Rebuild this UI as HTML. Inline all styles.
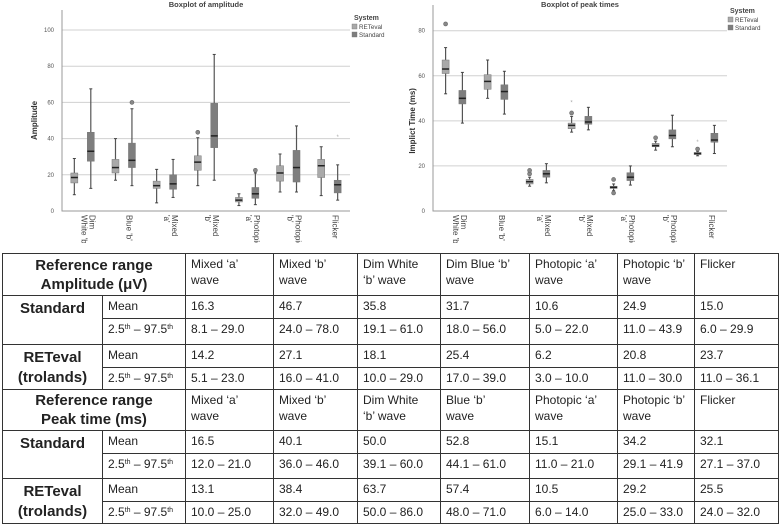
<!DOCTYPE html>
<html><head><meta charset="utf-8">
<style>
body{margin:0;background:#fff;width:780px;height:524px;overflow:hidden;position:relative;font-family:"Liberation Sans",sans-serif}
svg{position:absolute;left:0;top:0}
table{position:absolute;left:2px;top:253px;border-collapse:collapse;table-layout:fixed;width:776px}
td{border:1px solid #333;font-size:12px;color:#222;vertical-align:top;padding:2px 5px 0 5px;line-height:16px;overflow:hidden;white-space:nowrap;box-sizing:border-box}
td.h{font-weight:bold;font-size:15px;text-align:center;vertical-align:middle;padding:0;line-height:19px}
td.g{font-weight:bold;font-size:15px;text-align:center;vertical-align:top;padding-top:3px;line-height:20px}
sup{font-size:7px;line-height:0;vertical-align:4px}
</style></head><body>
<svg id="chart" width="780" height="243" viewBox="0 0 780 243"></svg>
<table>
<colgroup><col style="width:100px"><col style="width:83px"><col style="width:88px"><col style="width:84px"><col style="width:83px"><col style="width:89px"><col style="width:88px"><col style="width:77px"><col style="width:84px"></colgroup>
<tr style="height:42px"><td class="h" colspan="2">Reference range<br>Amplitude (μV)</td><td>Mixed ‘a’<br>wave</td><td>Mixed ‘b’<br>wave</td><td>Dim White<br>‘b’ wave</td><td>Dim Blue ‘b’<br>wave</td><td>Photopic ‘a’<br>wave</td><td>Photopic ‘b’<br>wave</td><td>Flicker</td></tr>
<tr style="height:23px"><td class="g" rowspan="2">Standard</td><td>Mean</td><td>16.3</td><td>46.7</td><td>35.8</td><td>31.7</td><td>10.6</td><td>24.9</td><td>15.0</td></tr>
<tr style="height:26px"><td>2.5<sup>th</sup> – 97.5<sup>th</sup></td><td>8.1 – 29.0</td><td>24.0 – 78.0</td><td>19.1 – 61.0</td><td>18.0 – 56.0</td><td>5.0 – 22.0</td><td>11.0 – 43.9</td><td>6.0 – 29.9</td></tr>
<tr style="height:23px"><td class="g" rowspan="2">RETeval<br>(trolands)</td><td>Mean</td><td>14.2</td><td>27.1</td><td>18.1</td><td>25.4</td><td>6.2</td><td>20.8</td><td>23.7</td></tr>
<tr style="height:22px"><td>2.5<sup>th</sup> – 97.5<sup>th</sup></td><td>5.1 – 23.0</td><td>16.0 – 41.0</td><td>10.0 – 29.0</td><td>17.0 – 39.0</td><td>3.0 – 10.0</td><td>11.0 – 30.0</td><td>11.0 – 36.1</td></tr>
<tr style="height:41px"><td class="h" colspan="2">Reference range<br>Peak time (ms)</td><td>Mixed ‘a’<br>wave</td><td>Mixed ‘b’<br>wave</td><td>Dim White<br>‘b’ wave</td><td>Blue ‘b’<br>wave</td><td>Photopic ‘a’<br>wave</td><td>Photopic ‘b’<br>wave</td><td>Flicker</td></tr>
<tr style="height:23px"><td class="g" rowspan="2">Standard</td><td>Mean</td><td>16.5</td><td>40.1</td><td>50.0</td><td>52.8</td><td>15.1</td><td>34.2</td><td>32.1</td></tr>
<tr style="height:25px"><td>2.5<sup>th</sup> – 97.5<sup>th</sup></td><td>12.0 – 21.0</td><td>36.0 – 46.0</td><td>39.1 – 60.0</td><td>44.1 – 61.0</td><td>11.0 – 21.0</td><td>29.1 – 41.9</td><td>27.1 – 37.0</td></tr>
<tr style="height:23px"><td class="g" rowspan="2">RETeval<br>(trolands)</td><td>Mean</td><td>13.1</td><td>38.4</td><td>63.7</td><td>57.4</td><td>10.5</td><td>29.2</td><td>25.5</td></tr>
<tr style="height:22px"><td>2.5<sup>th</sup> – 97.5<sup>th</sup></td><td>10.0 – 25.0</td><td>32.0 – 49.0</td><td>50.0 – 86.0</td><td>48.0 – 71.0</td><td>6.0 – 14.0</td><td>25.0 – 33.0</td><td>24.0 – 32.0</td></tr>
</table>
<script>
// Data: [whiskerLow, q1, median, q3, whiskerHigh]
const categories = ["Dim|White 'b'","Blue 'b'","Mixed|'a'","Mixed|'b'","Photopic|'a'","Photopic|'b'","Flicker"];
const ampRet = [[9,15.5,18.5,21,29],[17,21,24,28.5,40],[4.5,12.5,14,16.5,23],[14,22.5,27,30.5,40.5],[3,5,6,7.5,9.5],[10.5,16.5,21,25,31.5],[8.5,18.5,25,28.5,35.5]];
const ampStd = [[12.5,27.5,33,43.5,67.5],[14,24,28,37.5,56.5],[7.5,12,15,20,28.5],[17,35,41.5,59.5,86.5],[3.5,7,9.5,13,21],[10.5,16,24,33.5,47],[6,10,14.5,17,25.5]];
const ampRetOut = [[],[],[],[43.5],[],[],[]];
const ampStdOut = [[],[60],[],[],[22.5],[],[]];
const ampStdStar = [[],[],[],[],[],[],[41.5]];
const ampRetStar = [[],[],[],[],[],[],[]];
const ampTicks = [0,20,40,60,80,100];
const ptRet = [[52,61,63,67,72.5],[50,54,57.5,60.5,67],[11,12,13,14,15],[35,36.5,38,39,42],[9,10,10.5,11,12],[27,28.5,29,30,31],[24.5,25,25.5,26,26.5]];
const ptStd = [[39,47.5,50,53.5,61.5],[43,49.5,53,56,62],[12.5,15,16.5,18,21],[36,38.5,39.5,42,46],[11.5,13.5,15,17,20],[28.5,32,33.5,36,42.5],[25.5,30.5,31.5,34.5,38]];
const ptRetOut = [[83],[],[16.5,18],[43.5],[14,8],[32.5],[27.5]];
const ptStdOut = [[],[],[],[],[],[],[]];
const ptRetStar = [[],[],[],[48.5],[],[],[31]];
const ptStdStar = [[],[],[],[],[],[],[]];
const ptTicks = [0,20,40,60,80];

const NS="http://www.w3.org/2000/svg";
const svg=document.getElementById('chart');
function mk(tag,attrs,parent){const e=document.createElementNS(NS,tag);for(const k in attrs)e.setAttribute(k,attrs[k]);(parent||svg).appendChild(e);return e;}

function drawChart(cfg){
  const g=mk('g',{});
  
  
  const y=v=>cfg.y0-(v/cfg.ymax)*(cfg.y0-cfg.ytop);
  const band=(cfg.x1-cfg.x0)/categories.length;
  const xc=i=>cfg.x0+band*(i+0.5);
  cfg.ticks.forEach(t=>{
    if(t>0){const gl=mk('line',{x1:cfg.x0,x2:cfg.x1,y1:y(t),y2:y(t),stroke:'#d0d0d0','stroke-width':1},g);
      }
    const tl=mk('text',{x:cfg.x0-8,y:y(t)+2,'font-size':6,fill:'#555','text-anchor':'end'},g);
    tl.textContent=t;
    
  });
  const ax=mk('path',{d:`M${cfg.x0},${cfg.axTop}V${cfg.y0}H${cfg.x1}`,stroke:'#999',fill:'none','stroke-width':1},g);
  
  const tt=mk('text',{x:(cfg.x0+cfg.x1)/2,y:cfg.titleY,'font-size':7.5,'font-weight':'bold',fill:'#444','text-anchor':'middle'},g);
  tt.textContent=cfg.title;
  const yl=mk('text',{x:0,y:0,'font-size':8,'font-weight':'bold',fill:'#333','text-anchor':'middle',transform:`translate(${cfg.ylx},${(cfg.y0+cfg.ytop)/2}) rotate(-90)`},g);
  yl.textContent=cfg.ylabel;
  const series=[{d:cfg.ret,o:cfg.retOut,s:cfg.retStar,fill:'#a9a9a9',off:-0.2,n:'reteval'},{d:cfg.std,o:cfg.stdOut,s:cfg.stdStar,fill:'#7e7e7e',off:0.2,n:'standard'}];
  categories.forEach((c,i)=>{
    series.forEach(se=>{
      const cx=xc(i)+se.off*band, v=se.d[i], w=7;
      const wl=mk('line',{x1:cx,x2:cx,y1:y(v[0]),y2:y(v[4]),stroke:'#555','stroke-width':1.2},g);
      
      [v[0],v[4]].forEach(t=>{const cap=mk('line',{x1:cx-1.5,x2:cx+1.5,y1:y(t),y2:y(t),stroke:'#444','stroke-width':1},g);
        });
      const b=mk('rect',{x:cx-w/2,y:y(v[3]),width:w,height:Math.max(1,y(v[1])-y(v[3])),fill:se.fill,stroke:'#777','stroke-width':0.5},g);
      
      const m=mk('line',{x1:cx-w/2,x2:cx+w/2,y1:y(v[2]),y2:y(v[2]),stroke:'#222','stroke-width':1.5},g);
      
      se.o[i].forEach(t=>{const o=mk('circle',{cx:cx,cy:y(t),r:2,fill:'#888',stroke:'#666','stroke-width':0.6},g);
        });
      se.s[i].forEach(t=>{const s=mk('text',{x:cx,y:y(t)+3,'font-size':6,fill:'#aaa','text-anchor':'middle'},g);s.textContent='*';
        });
    });
    const lines=c.split('|');
    lines.forEach((ln,k)=>{
      const lx=xc(i)+3-(k-(lines.length-1)/2)*8;
      const t=mk('text',{x:0,y:0,'font-size':8,fill:'#444',transform:`translate(${lx},${cfg.y0+4}) rotate(90)`},g);
      t.textContent=ln;
      
    });
  });
  const lg=mk('g',{},g);
  const lt=mk('text',{x:cfg.lx+2,y:cfg.ly,'font-size':7,'font-weight':'bold',fill:'#444'},lg);lt.textContent='System';
  [['RETeval','#a9a9a9'],['Standard','#7e7e7e']].forEach((e,k)=>{
    const r=mk('rect',{x:cfg.lx,y:cfg.ly+4+k*8,width:5,height:5,fill:e[1],stroke:'#777','stroke-width':0.4},lg);
    
    const t=mk('text',{x:cfg.lx+7,y:cfg.ly+9+k*8,'font-size':6.3,fill:'#444'},lg);t.textContent=e[0];
    
  });
}
drawChart({name:'amplitude-boxplot',title:'Boxplot of amplitude',ylabel:'Amplitude',x0:62,x1:350,y0:211,ytop:30,ymax:100,axTop:10,titleY:7,ylx:37,ticks:ampTicks,
  ret:ampRet,std:ampStd,retOut:ampRetOut,stdOut:ampStdOut,retStar:ampRetStar,stdStar:ampStdStar,lx:352,ly:20});
drawChart({name:'peak-time-boxplot',title:'Boxplot of peak times',ylabel:'Implict Time (ms)',x0:433,x1:727,y0:211,ytop:30.7,ymax:80,axTop:5,titleY:7,ylx:415,ticks:ptTicks,
  ret:ptRet,std:ptStd,retOut:ptRetOut,stdOut:ptStdOut,retStar:ptRetStar,stdStar:ptStdStar,lx:728,ly:13});
</script>
</body></html>
